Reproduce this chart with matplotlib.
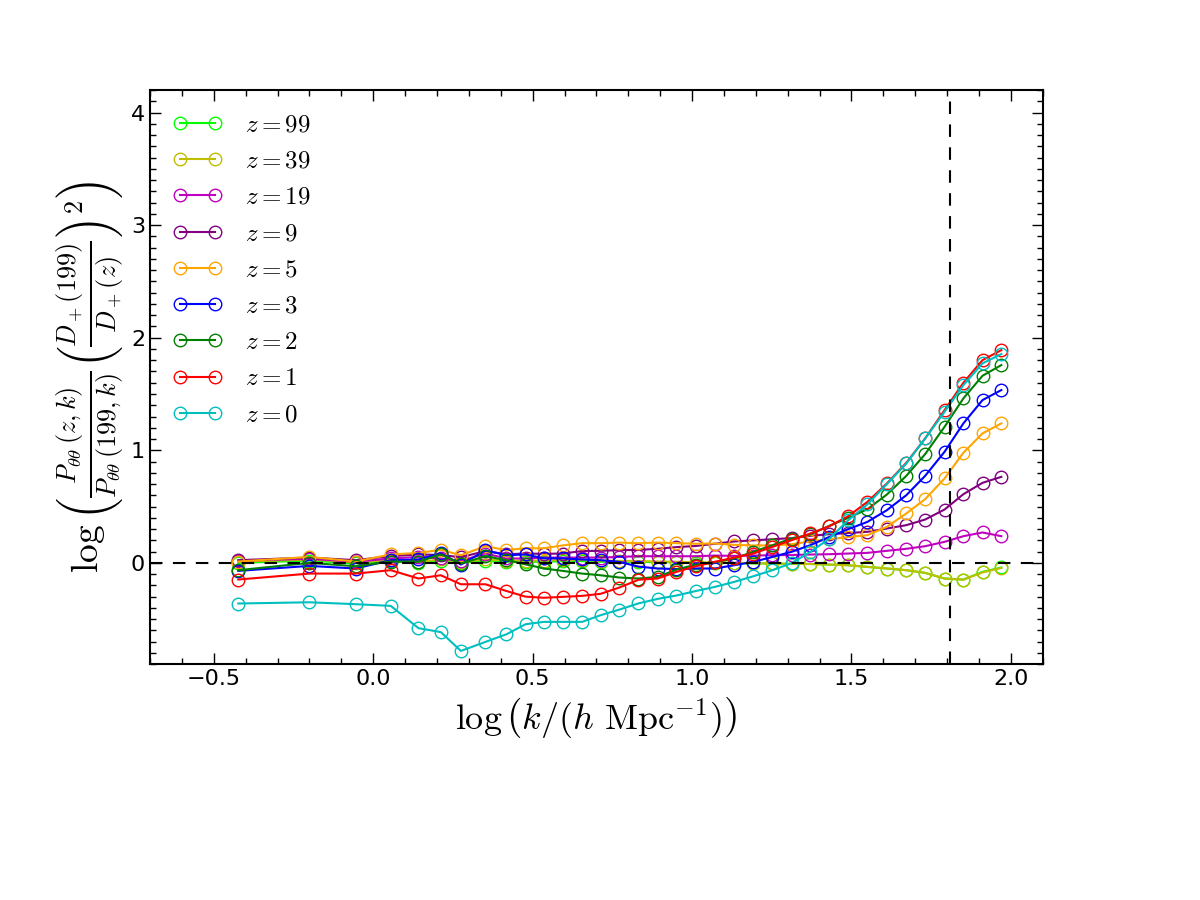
import numpy as np
import matplotlib
matplotlib.use('Agg')
import matplotlib.pyplot as plt
from matplotlib.ticker import MultipleLocator

plt.rcParams['mathtext.fontset'] = 'cm'

# log k bins
logk = [-0.423, -0.200, -0.055, 0.055, 0.142, 0.212, 0.275, 0.352, 0.418, 0.478,
        0.535, 0.594, 0.655, 0.713, 0.772, 0.832, 0.892, 0.951, 1.012, 1.072,
        1.132, 1.192, 1.252, 1.312, 1.371, 1.431, 1.490, 1.550, 1.611, 1.672,
        1.731, 1.792, 1.851, 1.911, 1.970]

# ratio curves, one per redshift
r_z99 = [0.0, 0.02, -0.005, 0.015, 0.0, 0.02, 0.0, 0.02, 0.01, 0.01,
         0.01, 0.015, 0.015, 0.01, 0.01, 0.01, 0.005, 0.005, 0.0, 0.0,
         0.0, -0.005, -0.005, -0.01, -0.01, -0.015, -0.021, -0.036, -0.05, -0.065,
         -0.089, -0.139, -0.148, -0.08, -0.041]
r_z39 = [0.01, 0.03, 0.005, 0.025, 0.01, 0.03, 0.01, 0.03, 0.02, 0.02,
         0.02, 0.025, 0.025, 0.02, 0.018, 0.016, 0.012, 0.01, 0.005, 0.003,
         0.0, -0.003, -0.005, -0.008, -0.01, -0.015, -0.021, -0.036, -0.05, -0.065,
         -0.089, -0.139, -0.15, -0.085, -0.045]
r_z19 = [0.02, 0.036, 0.01, 0.039, 0.053, 0.039, 0.018, 0.083, 0.039, 0.039,
         0.047, 0.047, 0.047, 0.047, 0.053, 0.059, 0.059, 0.059, 0.059, 0.065,
         0.062, 0.065, 0.068, 0.07, 0.074, 0.077, 0.083, 0.089, 0.107, 0.125,
         0.148, 0.187, 0.237, 0.27, 0.237]
r_z9 = [0.024, 0.047, 0.024, 0.06, 0.075, 0.07, 0.05, 0.105, 0.077, 0.083,
        0.08, 0.083, 0.105, 0.107, 0.113, 0.115, 0.125, 0.14, 0.15, 0.17,
        0.19, 0.2, 0.21, 0.22, 0.24, 0.255, 0.265, 0.276, 0.305, 0.335,
        0.385, 0.474, 0.61, 0.711, 0.764]
r_z5 = [0.012, 0.053, 0.012, 0.075, 0.088, 0.116, 0.068, 0.148, 0.113, 0.13,
        0.13, 0.155, 0.175, 0.175, 0.18, 0.175, 0.18, 0.175, 0.17, 0.172,
        0.16, 0.155, 0.155, 0.166, 0.19, 0.21, 0.23, 0.246, 0.32, 0.439,
        0.566, 0.75, 0.978, 1.15, 1.239]
r_z3 = [-0.071, -0.027, -0.05, 0.024, 0.03, 0.085, -0.015, 0.11, 0.068, 0.075,
        0.04, 0.04, 0.03, 0.024, 0.009, -0.033, -0.05, -0.055, -0.05, -0.05,
        -0.021, 0.009, 0.053, 0.098, 0.157, 0.231, 0.30, 0.364, 0.468, 0.601,
        0.773, 0.987, 1.239, 1.446, 1.535]
r_z2 = [-0.065, 0.0, -0.03, 0.012, 0.01, 0.075, -0.006, 0.059, 0.024, -0.012,
        -0.05, -0.071, -0.095, -0.11, -0.13, -0.139, -0.125, -0.06, -0.015, 0.005,
        0.039, 0.098, 0.157, 0.216, 0.252, 0.33, 0.40, 0.477, 0.607, 0.773,
        0.966, 1.209, 1.461, 1.662, 1.757]
r_z1 = [-0.148, -0.095, -0.095, -0.065, -0.139, -0.11, -0.19, -0.19, -0.25, -0.30,
        -0.31, -0.302, -0.293, -0.275, -0.219, -0.15, -0.139, -0.08, -0.03, 0.01,
        0.047, 0.083, 0.142, 0.201, 0.261, 0.326, 0.415, 0.542, 0.705, 0.889,
        1.105, 1.357, 1.6, 1.801, 1.89]
r_z0 = [-0.361, -0.35, -0.367, -0.382, -0.58, -0.615, -0.782, -0.702, -0.634, -0.545,
        -0.524, -0.524, -0.524, -0.465, -0.415, -0.36, -0.32, -0.29, -0.25, -0.213,
        -0.169, -0.119, -0.065, -0.003, 0.098, 0.216, 0.379, 0.52, 0.70, 0.883,
        1.105, 1.342, 1.579, 1.772, 1.855]

series = [r_z99, r_z39, r_z19, r_z9, r_z5, r_z3, r_z2, r_z1, r_z0]
labels = ['$z=99$', '$z=39$', '$z=19$', '$z=9$', '$z=5$', '$z=3$', '$z=2$', '$z=1$', '$z=0$']
colors = ['#00ff00', '#bfbf00', '#bf00bf', '#800080', '#ffa500', '#0000ff', '#008000', '#ff0000', '#00bfbf']

k_nl = 1.81

fig = plt.figure(figsize=(12, 9), dpi=100)
ax = fig.add_axes([0.125, 0.262, 0.744, 0.638])

for y, lab, col in zip(series, labels, colors):
    ax.plot(logk, y, '-o', color=col, lw=1.5, ms=9, mfc='none', mec=col, mew=1.0, label=lab)

ax.axhline(0, color='k', lw=1.5, ls=(0, (6, 5)))
ax.axvline(k_nl, color='k', lw=1.5, ls=(0, (6, 5)))

ax.set_xlim(-0.7, 2.1)
ax.set_ylim(-0.9, 4.2)
ax.xaxis.set_major_locator(MultipleLocator(0.5))
ax.xaxis.set_minor_locator(MultipleLocator(0.1))
ax.yaxis.set_major_locator(MultipleLocator(1))
ax.yaxis.set_minor_locator(MultipleLocator(0.1))
ax.tick_params(which='both', direction='in', top=True, right=True, labelsize=16)
ax.tick_params(which='major', length=8, width=1)
ax.tick_params(which='minor', length=4, width=1)
for s in ax.spines.values():
    s.set_linewidth(1.5)

ax.set_xlabel(r'$\log\left(k/(h\ \mathrm{Mpc}^{-1})\right)$', fontsize=26)
ax.set_ylabel(r'$\log\left(\frac{P_{\theta\theta}\,(z,k)}{P_{\theta\theta}\,(199,k)}\left(\frac{D_+(199)}{D_+(z)}\right)^2\right)$',
              fontsize=27)

ax.legend(loc='upper left', frameon=False, numpoints=2, fontsize=18,
          handlelength=2.0, labelspacing=0.49, handletextpad=0.9,
          borderaxespad=0.5)

fig.savefig('out.png', dpi=100)
